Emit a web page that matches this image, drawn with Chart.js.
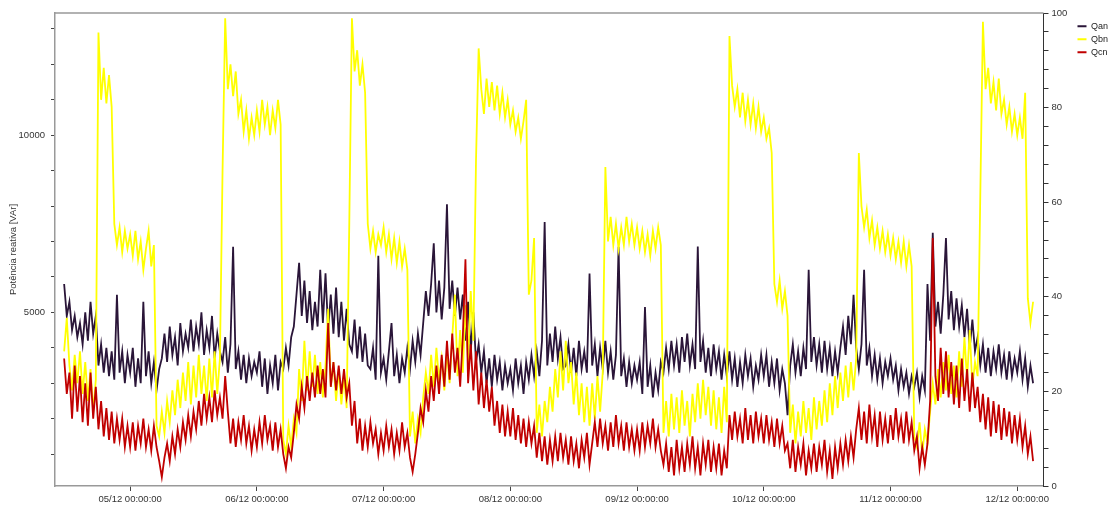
<!DOCTYPE html>
<html>
<head>
<meta charset="utf-8">
<script src="https://cdn.jsdelivr.net/npm/chart.js@4.4.1/dist/chart.umd.min.js"></script>
<style>
  html, body { margin: 0; padding: 0; background: #fff; }
</style>
</head>
<body>
<canvas id="chart" width="1118" height="508"></canvas>
<script>
// time grid: hours relative to 05/12 00:00, one reading every 30 min
const startHour = -12.5;
const stepHours = 0.5;

// x axis ticks (midnights) and their labels
const xTickHours = [0, 24, 48, 72, 96, 120, 144, 168];
const xTickLabels = ['05/12 00:00:00', '06/12 00:00:00', '07/12 00:00:00', '08/12 00:00:00',
                     '09/12 00:00:00', '10/12 00:00:00', '11/12 00:00:00', '12/12 00:00:00'];

// left axis: minor ticks every 1000, labels only on some
const leftTicks = [1000, 2000, 3000, 4000, 5000, 6000, 7000, 8000, 9000, 10000, 11000, 12000, 13000];
const leftLabels = [5000, 10000];
// right axis: ticks every 4, labels every 20
const rightTicks = [0, 4, 8, 12, 16, 20, 24, 28, 32, 36, 40, 44, 48, 52, 56, 60, 64, 68, 72, 76, 80, 84, 88, 92, 96, 100];
const rightLabels = [0, 20, 40, 60, 80, 100];

const seriesNames = ['Qan', 'Qbn', 'Qcn'];

// Qan [VAr]
const qan = [
  5800,4900,5300,4500,4900,4300,4700,4100,5000,4200,5300,4400,4900,3500,4100,3300,4000,3200,3900,3100,5500,3300,3900,3000,3800,
  3300,4000,2900,3700,3000,5300,3200,3900,3000,3600,2800,3400,3700,4400,3600,4600,3800,4300,3500,4700,3900,4400,4000,4800,3900,4600,4100,5000,3800,4500,4000,4900,3700,4400,3900,3600,4300,3300,4100,6850,3400,3900,3100,3800,3000,3700,3200,3600,
  3300,3900,2900,3700,2700,3500,3000,3800,2800,3600,3400,4000,3500,4300,4600,5500,6400,4900,5900,4700,5600,4500,5300,4600,6200,4700,6100,4500,5500,4400,5700,4300,5300,4200,5100,4100,3900,4800,3700,4600,3600,4400,3500,3400,4000,3100,6600,3300,
  3700,3100,3900,4700,3200,3800,3000,3700,3300,4000,3400,4200,3600,4400,3800,4700,5600,4900,5800,6950,5000,5900,4800,5700,8050,5100,5900,4900,5700,4800,5500,4200,5300,3900,5000,3600,4100,3300,3900,3000,3700,2900,3800,3100,3600,2800,3500,3000,
  3400,2800,3700,3000,3500,2700,3600,3100,3800,3200,3900,3200,4200,7550,3500,4400,3600,4600,3700,4300,3400,3500,4100,3300,4000,3200,4200,3400,3900,3300,6100,3500,4100,3200,4000,3400,4200,3300,3900,3100,3800,6850,3200,3700,2900,3600,3000,3500,
  3100,3600,2700,5150,2900,3500,2600,3300,2800,3600,3300,4000,3400,4200,3500,4100,3300,4300,3600,4400,3500,4100,3400,6860,3600,4200,3300,4000,3200,4100,3400,3900,3100,3800,3200,3900,3100,3700,2900,3600,3000,3800,3200,3700,2900,3500,3100,3800,
  3200,3800,2900,3600,3000,3700,2800,3400,3000,2100,3500,4100,3300,3900,3200,4000,3400,6200,3600,4300,3500,4100,3300,4200,3400,4000,3200,3900,3300,4000,4600,3800,4900,4100,5500,4000,3400,4100,6200,3500,4000,3200,3800,3100,3700,3000,3600,3200,
  3700,3100,3500,2800,3400,2900,3300,2700,3200,2900,3300,2600,3200,2800,5800,4200,7250,4600,5300,4400,5500,7100,4800,5600,4500,5400,4600,5200,4300,5100,4000,4800,3900,4300,3500,4100,3300,4000,3200,3900,3400,4100,3300,3800,3100,3900,3200,3700,
  3300,3900,3100,3700,2900,3500,3000
];

// Qbn [VAr]
const qbn = [
  3900,4850,3500,2800,3800,3000,3900,2700,3600,2500,3400,2200,3100,12900,11000,11900,10900,11700,10800,7500,6900,7400,6700,7300,6800,
  7200,6600,7300,6500,7000,6200,6800,7300,6300,6900,1800,1500,2200,1600,2500,1900,2800,2100,3100,2300,3300,2500,3600,2400,3500,2600,3800,2700,3500,2500,3700,2600,3900,2700,3700,9000,13300,11300,12000,11100,11800,10600,11000,10100,10700,9900,10500,10000,
  10700,10100,11000,10300,10800,10000,10700,10200,11000,10300,1400,1000,1800,1200,2000,1600,3400,2500,4200,2800,3900,2900,3800,2700,3600,2600,3500,5100,2900,3600,2500,3400,2400,3200,2300,7500,13300,11800,12400,11400,12000,11200,7500,6800,7300,6700,7200,6900,
  7400,6700,7200,6500,7100,6400,7000,6300,6800,6200,1500,2200,1300,2000,1600,2600,3300,2700,3800,2900,4000,3100,3700,2800,3900,3000,4300,5500,3200,4500,3300,5200,3600,5600,4200,9300,12450,11300,10600,11600,10800,11500,10700,11400,10600,11200,10500,11000,
  10300,10700,10100,10500,9900,10400,11000,5500,5900,7100,1600,2400,1500,2500,1900,2900,2200,3400,2600,3900,2800,4200,3000,3600,2400,3300,2100,3000,1900,2900,1800,3000,2000,3200,2200,3300,9100,7000,7700,6900,7500,6800,7400,6900,7700,7000,7500,6900,
  7400,6800,7300,6700,7200,6600,7300,6800,7400,6900,1600,2500,1500,2700,1700,2600,1600,2800,1800,2500,1500,2700,1900,3000,2000,3100,2100,2900,1800,2800,1700,2600,1600,2900,1900,12800,11400,10800,11300,10500,11200,10400,11000,10300,10900,10200,10800,10100,
  10500,9900,10200,9500,5800,5300,5900,5100,5600,4900,1600,2400,1300,2200,1500,2500,1600,2300,1400,2600,1700,2500,1800,2800,1900,3000,2100,3200,2300,3300,2500,3500,2600,3600,2800,3700,9500,8000,7400,7900,7100,7600,6900,7400,6800,7300,6700,7200,
  6600,7100,6500,7000,6400,7000,6300,6900,6300,1500,1200,1900,1000,1700,1300,2200,3000,2400,3400,2600,3600,2800,3800,2700,3500,2600,3900,2900,4300,3100,4500,2900,3600,3200,8300,13200,11300,11900,10900,11500,10700,11600,10600,11000,10300,10800,10100,10600,
  10000,10500,9900,11200,5400,4700,5300
];

// Qcn [VAr]
const qcn = [
  3700,2700,3300,2000,3500,2200,3200,1900,3000,1800,3300,2000,2900,1700,2500,1500,2300,1400,2200,1300,2000,1400,2000,1200,1800,
  1200,1900,1100,1800,1300,2000,1200,1700,1100,1800,1200,800,350,900,1300,800,1500,1000,1700,1200,1900,1400,2100,1500,2200,1700,2500,1800,2700,2000,2600,1900,2800,2100,2600,2000,3200,2200,1300,2000,1200,1900,1400,2100,1300,1800,1100,1700,
  1200,1900,1300,2100,1400,1800,1100,1900,1200,1700,1000,600,1200,900,1600,2400,2000,2900,2300,3200,2500,3300,2600,3500,2700,3400,2600,4700,2900,3600,2800,3500,2700,3400,2600,3000,1800,2500,1300,2000,1100,1800,1200,1900,1300,1700,1000,1600,
  1100,1800,1200,1700,1000,1600,1100,1900,1200,1600,900,500,1000,1600,2300,1900,2800,2200,3200,2500,3500,2700,3800,2900,4200,3100,4400,3300,4000,2900,4300,6500,3000,4100,2800,3900,2400,3300,2300,3100,2200,2900,1800,2500,1600,2400,1500,2200,
  1500,2300,1400,2100,1300,2000,1200,1900,1300,1800,900,1600,800,1500,700,1400,800,1500,800,1600,900,1400,700,1500,800,1300,600,1400,900,1600,700,1300,1900,1200,2000,1300,1800,1100,1900,1200,2100,1300,1800,1100,1900,1200,1700,1100,
  1700,1100,1900,1200,1800,1300,2000,1200,1700,1100,700,1300,500,1200,400,1400,600,1200,500,1300,700,1500,600,1200,400,1300,700,1400,500,1200,600,1300,400,1100,600,2100,1400,2200,1500,2000,1300,2300,1400,2100,1300,2200,1500,2000,
  1300,2100,1400,1900,1200,2000,1300,1800,1100,1300,600,1400,500,1200,700,1300,400,1100,600,1300,500,1200,700,1400,500,1100,300,1200,600,1300,700,1400,800,1500,900,1700,2300,1400,2200,1300,2400,1500,2100,1200,2200,1400,2000,1300,
  2100,1400,2300,1500,2000,1300,2200,1400,1900,1100,1500,600,1200,700,1300,2500,7100,3200,2500,4000,2700,3900,2600,3600,2400,3500,2300,3700,2500,3400,2200,3300,2300,2900,1900,2700,1700,2600,1500,2500,1600,2400,1400,2300,1500,2200,1300,2100,
  1400,2000,1200,1800,1000,1500,800
];

const hours = qan.map((_, i) => startHour + i * stepHours);

Chart.defaults.font.family = '"Liberation Sans", Arial, sans-serif';
Chart.defaults.color = '#333';

// top edge of the plot frame
const frameTop = {
  id: 'frameTop',
  beforeDatasetsDraw(chart) {
    const { ctx, chartArea } = chart;
    ctx.save();
    ctx.strokeStyle = '#999';
    ctx.lineWidth = 1.5;
    ctx.beginPath();
    ctx.moveTo(chartArea.left, chartArea.top);
    ctx.lineTo(chartArea.right, chartArea.top);
    ctx.stroke();
    ctx.restore();
  }
};

const ctx = document.getElementById('chart').getContext('2d');
new Chart(ctx, {
  type: 'line',
  data: {
    labels: hours,
    datasets: [{
      label: seriesNames[0],
      data: qan,
      borderColor: '#2a1538',
      backgroundColor: '#2a1538',
      order: 3
    }, {
      label: seriesNames[1],
      data: qbn,
      borderColor: '#ffff00',
      backgroundColor: '#ffff00',
      order: 2
    }, {
      label: seriesNames[2],
      data: qcn,
      borderColor: '#c00000',
      backgroundColor: '#c00000',
      order: 1
    }]
  },
  options: {
    responsive: false,
    animation: false,
    layout: { padding: { top: 13, right: 0, bottom: 0, left: 0 } },
    elements: {
      point: { radius: 0 },
      line: { borderWidth: 1.8, tension: 0 }
    },
    plugins: {
      tooltip: { enabled: false },
      legend: {
        position: 'right',
        align: 'start',
        title: { display: true, text: ' ', font: { size: 4 }, padding: 0 },
        labels: {
          boxWidth: 9,
          boxHeight: 2,
          padding: 4,
          color: '#222',
          font: { size: 9 },
          sort: (a, b) => a.datasetIndex - b.datasetIndex,
          generateLabels: chart => Chart.defaults.plugins.legend.labels.generateLabels(chart)
            .map(l => Object.assign(l, { lineWidth: 0 }))
        }
      }
    },
    scales: {
      x: {
        type: 'linear',
        min: -14.23,
        max: 172.97,
        afterBuildTicks: s => { s.ticks = xTickHours.map(v => ({ value: v })); },
        afterFit: s => { s.height = 22; },
        ticks: {
          autoSkip: false,
          maxRotation: 0,
          padding: 3,
          font: { size: 9.5 },
          callback: v => xTickLabels[xTickHours.indexOf(v)]
        },
        grid: { drawOnChartArea: false, drawTicks: true, tickLength: 5, tickColor: '#444' },
        border: { color: '#999', width: 1.5 }
      },
      y: {
        position: 'left',
        min: 100,
        max: 13450,
        afterBuildTicks: s => { s.ticks = leftTicks.map(v => ({ value: v })); },
        afterFit: s => { s.width = 55; },
        ticks: {
          padding: 6,
          font: { size: 9.5 },
          callback: v => leftLabels.includes(v) ? String(v) : ''
        },
        title: {
          display: true,
          text: 'Potência reativa [VAr]',
          font: { size: 9.5 },
          color: '#333',
          padding: { top: 8, bottom: 0 }
        },
        grid: { drawOnChartArea: false, drawTicks: true, tickLength: 4, tickColor: '#444' },
        border: { color: '#999', width: 1.5 }
      },
      y1: {
        position: 'right',
        min: 0,
        max: 100,
        afterBuildTicks: s => { s.ticks = rightTicks.map(v => ({ value: v })); },
        afterFit: s => { s.width = 30; },
        ticks: {
          padding: 3,
          font: { size: 9.5 },
          callback: v => rightLabels.includes(v) ? String(v) : ''
        },
        grid: { drawOnChartArea: false, drawTicks: true, tickLength: 5, tickColor: '#333' },
        border: { color: '#333', width: 1 }
      }
    }
  },
  plugins: [frameTop]
});
</script>
</body>
</html>
